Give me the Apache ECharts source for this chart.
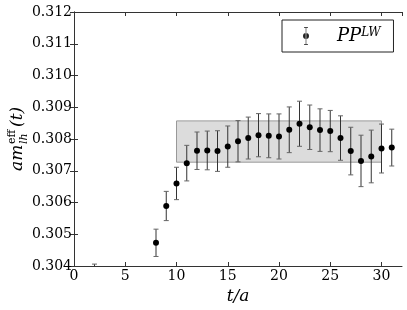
<!DOCTYPE html>
<html>
<head>
<meta charset="utf-8">
<script src="https://cdn.jsdelivr.net/npm/echarts@6/dist/echarts.min.js"></script>
<style>html,body{margin:0;padding:0;background:#fff}#c{width:407px;height:310px}</style>
</head>
<body>
<div id="c"></div>
<script>
// Data
const tValues = [2, 8, 9, 10, 11, 12, 13, 14, 15, 16, 17, 18, 19, 20, 21, 22, 23, 24, 25, 26, 27, 28, 29, 30, 31];
const mEff = [0.30300, 0.30473, 0.30589, 0.30660, 0.30724, 0.30763, 0.30764, 0.30762, 0.30776, 0.30793, 0.30803, 0.30812, 0.30810, 0.30808, 0.30829, 0.30848, 0.30837, 0.30828, 0.30825, 0.30803, 0.30762, 0.30731, 0.30745, 0.30770, 0.30773];
const mErr = [0.00106, 0.00043, 0.00046, 0.00051, 0.00056, 0.00059, 0.00061, 0.00064, 0.00065, 0.00065, 0.00066, 0.00068, 0.00069, 0.00071, 0.00072, 0.00071, 0.00070, 0.00067, 0.00065, 0.00070, 0.00075, 0.00081, 0.00083, 0.00077, 0.00058];
const bandX = [10, 30];
const bandY = [0.30727, 0.30857];
const xTicks = { min: 0, max: 32, step: 5 };
const yTicks = { min: 0.304, max: 0.312, step: 0.001 };
const seriesName = 'PP^LW';

const serif = 'DejaVu Serif';
const axisCol = '#333';
const pts = tValues.map((t, i) => [t, mEff[i], mErr[i]]);

const chart = echarts.init(document.getElementById('c'), null, { renderer: 'canvas' });

const errIcon = 'path://M2,0H10V1.4H2Z M5.4,0H6.6V36H5.4Z M2,34.6H10V36H2Z M0,18A6,6 0 1,0 12,18A6,6 0 1,0 0,18Z';

chart.setOption({
  animation: false,
  grid: { left: 74, right: 5, top: 12, bottom: 44 },
  legend: {
    left: 282, top: 20,
    padding: [7, 13, 7, 21],
    borderColor: '#222', borderWidth: 1,
    itemWidth: 10, itemHeight: 18, itemGap: 0,
    icon: errIcon,
    data: [{ name: seriesName }],
    formatter: () => '{p|PP}{s|LW}',
    textStyle: {
      padding: [0, 0, 0, 21],
      rich: {
        p: { fontFamily: serif, fontStyle: 'italic', fontSize: 18, lineHeight: 18, color: '#000' },
        s: { fontFamily: serif, fontStyle: 'italic', fontSize: 12, lineHeight: 18, verticalAlign: 'top', color: '#000' }
      }
    }
  },
  xAxis: [{
    type: 'value', min: xTicks.min, max: xTicks.max, interval: xTicks.step,
    name: 't/a', nameLocation: 'middle', nameGap: 21,
    nameTextStyle: { fontFamily: serif, fontStyle: 'italic', fontSize: 17, color: '#000' },
    axisLine: { show: true, lineStyle: { color: axisCol } },
    axisTick: { inside: true, length: 4, lineStyle: { color: axisCol } },
    axisLabel: { fontFamily: serif, fontSize: 14, color: '#000', margin: 3, showMaxLabel: false },
    splitLine: { show: false }
  }, {
    type: 'value', position: 'top', min: xTicks.min, max: xTicks.max, interval: xTicks.step,
    axisLine: { show: true, lineStyle: { color: axisCol } },
    axisTick: { inside: true, length: 4, lineStyle: { color: axisCol } },
    axisLabel: { show: false }, splitLine: { show: false }
  }],
  yAxis: [{
    type: 'value', min: yTicks.min, max: yTicks.max, interval: yTicks.step,
    axisLine: { show: true, lineStyle: { color: axisCol } },
    axisTick: { inside: true, length: 4, lineStyle: { color: axisCol } },
    axisLabel: { fontFamily: serif, fontSize: 14, color: '#000', margin: 2, formatter: v => v.toFixed(3) },
    splitLine: { show: false }
  }, {
    type: 'value', position: 'right', min: yTicks.min, max: yTicks.max, interval: yTicks.step,
    axisLine: { show: true, lineStyle: { color: axisCol } },
    axisTick: { inside: true, length: 4, lineStyle: { color: axisCol } },
    axisLabel: { show: false }, splitLine: { show: false }
  }],
  graphic: [{
    type: 'group', x: 18, y: 135, rotation: Math.PI / 2,
    children: [
      { type: 'text', x: -36, y: 0, style: { text: 'am', font: 'italic 17px "DejaVu Serif"', fill: '#000', align: 'left', verticalAlign: 'middle' } },
      { type: 'text', x: -9, y: -6, style: { text: 'eff', font: '11px "DejaVu Serif"', fill: '#000', align: 'left', verticalAlign: 'middle' } },
      { type: 'text', x: -9, y: 6, style: { text: 'lh', font: 'italic 11px "DejaVu Serif"', fill: '#000', align: 'left', verticalAlign: 'middle' } },
      { type: 'text', x: 8, y: 0, style: { text: '(t)', font: 'italic 17px "DejaVu Serif"', fill: '#000', align: 'left', verticalAlign: 'middle' } }
    ]
  }],
  series: [{
    type: 'custom', name: 'band', silent: true, clip: true, z: 1,
    data: [[bandX[0], bandY[0], bandX[1], bandY[1]]],
    renderItem: (params, api) => {
      const p0 = api.coord([api.value(0), api.value(3)]);
      const p1 = api.coord([api.value(2), api.value(1)]);
      return { type: 'rect', shape: { x: p0[0], y: p0[1], width: p1[0] - p0[0], height: p1[1] - p0[1] },
        style: { fill: '#dcdcdc', stroke: '#999', lineWidth: 1 } };
    }
  }, {
    type: 'custom', name: seriesName, clip: true, z: 2,
    itemStyle: { color: '#222' },
    data: pts,
    renderItem: (params, api) => {
      const x = api.value(0), v = api.value(1), e = api.value(2);
      const c = api.coord([x, v]);
      const top = api.coord([x, v + e]);
      const bot = api.coord([x, v - e]);
      const ls = { stroke: '#333', lineWidth: 1 };
      const cs = { stroke: '#666', lineWidth: 1 };
      return { type: 'group', children: [
        { type: 'line', shape: { x1: c[0], y1: top[1], x2: c[0], y2: bot[1] }, style: ls },
        { type: 'line', shape: { x1: c[0] - 2.5, y1: top[1], x2: c[0] + 2.5, y2: top[1] }, style: cs },
        { type: 'line', shape: { x1: c[0] - 2.5, y1: bot[1], x2: c[0] + 2.5, y2: bot[1] }, style: cs },
        { type: 'circle', shape: { cx: c[0], cy: c[1], r: 3 }, style: { fill: '#000' } }
      ] };
    }
  }]
});
</script>
</body>
</html>
